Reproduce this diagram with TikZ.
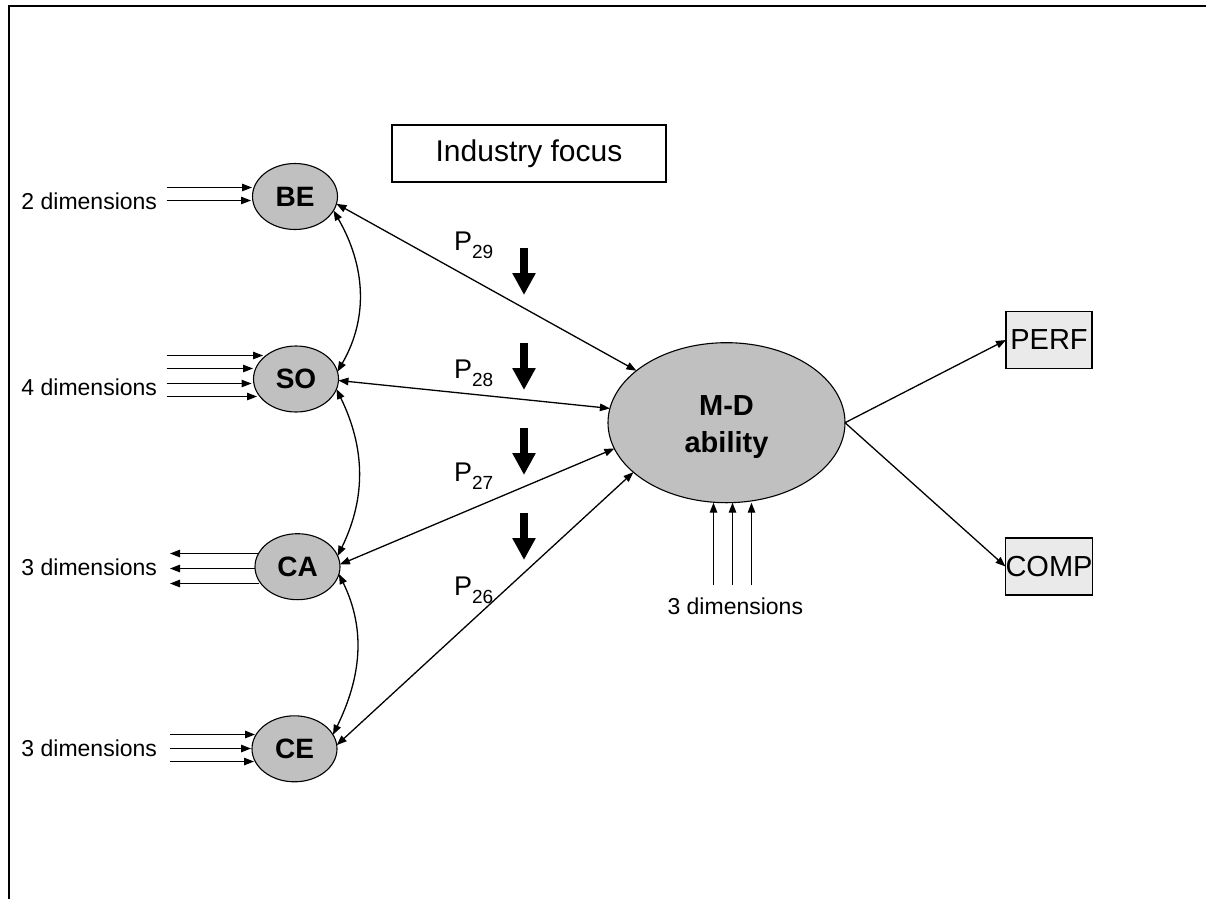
\documentclass[tikz,border=0pt]{standalone}
\usepackage{fontspec}
\setmainfont{Liberation Sans}
\usetikzlibrary{arrows.meta,shapes.geometric}

\definecolor{ovalgray}{HTML}{C0C0C0}
\definecolor{boxgray}{HTML}{EAEAEA}

\begin{document}
\begin{tikzpicture}[x=1pt,y=-1pt,
  every node/.style={inner sep=0pt,outer sep=0pt},
  latent/.style={ellipse,draw,line width=1.1pt,fill=ovalgray,
    minimum width=85pt,minimum height=66pt,
    font=\fontsize{28}{28}\selectfont\bfseries},
  bigoval/.style={ellipse,draw,line width=1.1pt,fill=ovalgray,
    minimum width=237pt,minimum height=160pt},
  ovaltext/.style={font=\fontsize{29}{29}\selectfont\bfseries},
  outbox/.style={draw,line width=1.1pt,fill=boxgray,
    minimum width=86pt,minimum height=57pt,
    font=\fontsize{29}{29}\selectfont},
  focusbox/.style={draw,line width=1.1pt,fill=white,
    minimum width=274pt,minimum height=57pt,
    font=\fontsize{30}{30}\selectfont},
  dimlabel/.style={font=\fontsize{23}{23}\selectfont},
  plabel/.style={font=\fontsize{27}{27}\selectfont},
  link/.style={line width=1.3pt,-{Triangle[length=10pt,width=7.5pt]}},
  both/.style={line width=1.3pt,
    {Triangle[length=10pt,width=7.5pt]}-{Triangle[length=10pt,width=7.5pt]}},
  moderator/.style={line width=8pt,-{Triangle[length=22pt,width=22pt]}},
]
\useasboundingbox (0,0) rectangle (1206,899);

% frame
\draw[line width=2pt] (8.5,899) -- (8.5,6) -- (1206,6);

% constructs
\node[latent] (BE) at (295,196.5) {BE};
\node[latent] (SO) at (296,379) {SO};
\node[latent] (CA) at (297.5,566.7) {CA};
\node[latent] (CE) at (294.5,748.8) {CE};
\node[bigoval] (MD) at (726.5,422.7) {};
\node[ovaltext,anchor=base] (MDa) at (726.5,415) {M-D};
\node[ovaltext,anchor=base] (MDb) at (726.5,452.7) {ability};

\node[focusbox] (focus) at (529,153.5) {Industry focus};
\node[outbox] (PERF) at (1049,340) {PERF};
\node[outbox] (COMP) at (1049,566.5) {COMP};

% dimension labels
\node[dimlabel,anchor=base east] (dBE) at (157,209.3) {2 dimensions};
\node[dimlabel,anchor=base east] (dSO) at (157,395) {4 dimensions};
\node[dimlabel,anchor=base east] (dCA) at (157,575.7) {3 dimensions};
\node[dimlabel,anchor=base east] (dCE) at (157,756) {3 dimensions};
\node[dimlabel,anchor=base] (dMD) at (735.3,614.3) {3 dimensions};

% path labels
\node[plabel,anchor=base west] (P29) at (454,250)
  {P\raisebox{-8pt}{\fontsize{19}{19}\selectfont 29}};
\node[plabel,anchor=base west] (P28) at (454,378.3)
  {P\raisebox{-8pt}{\fontsize{19}{19}\selectfont 28}};
\node[plabel,anchor=base west] (P27) at (454,481.7)
  {P\raisebox{-8pt}{\fontsize{19}{19}\selectfont 27}};
\node[plabel,anchor=base west] (P26) at (454,595)
  {P\raisebox{-8pt}{\fontsize{19}{19}\selectfont 26}};

% moderating arrows
\coordinate (m1s) at (524,248.3); \coordinate (m1e) at (524,295);
\coordinate (m2s) at (524,342.7); \coordinate (m2e) at (524,390);
\coordinate (m3s) at (524,427.7); \coordinate (m3e) at (524,475);
\coordinate (m4s) at (524,512.7); \coordinate (m4e) at (524,560);
\draw[moderator] (m1s) -- (m1e);
\draw[moderator] (m2s) -- (m2e);
\draw[moderator] (m3s) -- (m3e);
\draw[moderator] (m4s) -- (m4e);

% indicator stubs
\coordinate (be1) at (166.5,187.5); \coordinate (be1e) at (252,187.5);
\coordinate (be2) at (166.5,200.5); \coordinate (be2e) at (251,200.5);
\draw[link] (be1) -- (be1e);
\draw[link] (be2) -- (be2e);

\coordinate (so1) at (166.5,355.5); \coordinate (so1e) at (263,355.5);
\coordinate (so2) at (166.5,368.5); \coordinate (so2e) at (253,368.5);
\coordinate (so3) at (166.5,383.5); \coordinate (so3e) at (251.5,383.5);
\coordinate (so4) at (166.5,396.5); \coordinate (so4e) at (257,396.5);
\draw[link] (so1) -- (so1e);
\draw[link] (so2) -- (so2e);
\draw[link] (so3) -- (so3e);
\draw[link] (so4) -- (so4e);

\coordinate (ca1) at (257.5,553.5); \coordinate (ca1e) at (170,553.5);
\coordinate (ca2) at (255,568.5);   \coordinate (ca2e) at (170,568.5);
\coordinate (ca3) at (259,583.5);   \coordinate (ca3e) at (170,583.5);
\draw[link] (ca1) -- (ca1e);
\draw[link] (ca2) -- (ca2e);
\draw[link] (ca3) -- (ca3e);

\coordinate (ce1) at (170,734.5); \coordinate (ce1e) at (255,734.5);
\coordinate (ce2) at (170,748.5); \coordinate (ce2e) at (251,748.5);
\coordinate (ce3) at (170,761.5); \coordinate (ce3e) at (254,761.5);
\draw[link] (ce1) -- (ce1e);
\draw[link] (ce2) -- (ce2e);
\draw[link] (ce3) -- (ce3e);

\coordinate (md1) at (713.5,585);
\coordinate (md2) at (732.5,585);
\coordinate (md3) at (751.5,585);
\draw[link] (md1) -- (md1 |- MD.south);
\draw[link] (md2) -- (md2 |- MD.south);
\draw[link] (md3) -- (md3 |- MD.south);

% correlations between constructs
\draw[both] (BE.-20) to[out=-60,in=60] (SO.10);
\draw[both] (SO.-14) to[out=-64,in=64] (CA.15);
\draw[both] (CA.-10) to[out=-64,in=64] (CE.20);

% paths into M-D ability
\draw[both] (BE.-10) -- (MD.150.6);
\draw[both] (SO.-2) -- (MD.173);
\draw[both] (CA.3) -- (MD.193.6);
\draw[both] (CE.5) -- (MD.208.4);

% outcomes
\draw[link] (MD.east) -- (PERF.west);
\draw[link] (MD.east) -- (COMP.west);
\end{tikzpicture}
\end{document}
